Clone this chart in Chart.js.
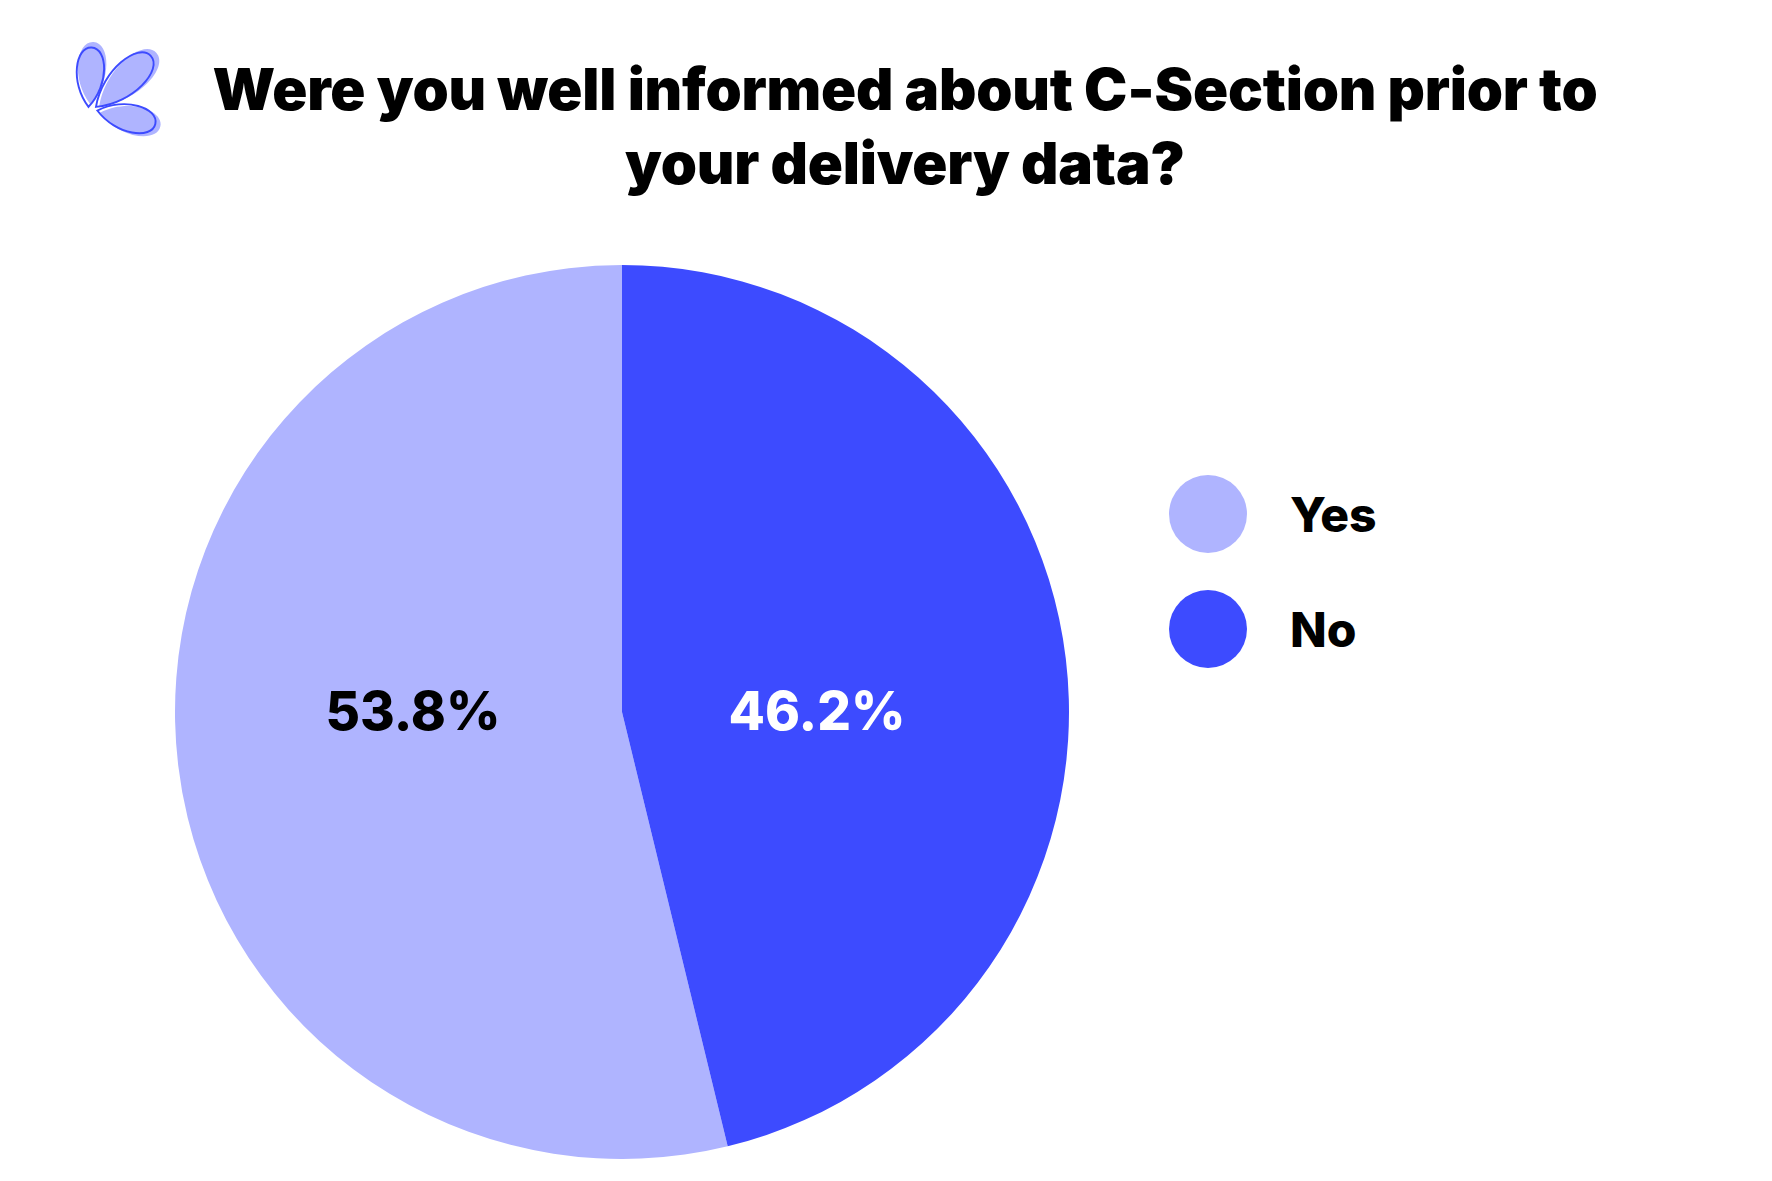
<!DOCTYPE html>
<html>
<head>
<meta charset="utf-8">
<script src="https://cdn.jsdelivr.net/npm/chart.js@4.4.1/dist/chart.umd.min.js"></script>
<style>
    html, body { margin: 0; padding: 0; background: #ffffff; }
    body { width: 1772px; height: 1181px; position: relative; overflow: hidden; font-family: Inter, "Open Sans", sans-serif; }
    #logo { position: absolute; left: 60px; top: 32px; }
    #title {
        position: absolute; left: 180px; width: 1450px; top: 52px;
        text-align: center; font-weight: 900; font-size: 58px; line-height: 74px;
        letter-spacing: -0.2px; color: #000;
    }
    #chartBox { position: absolute; left: 175px; top: 265px; width: 894px; height: 894px; }
    #legend { position: absolute; left: 1169px; top: 475px; }
    .legendItem { display: flex; align-items: center; height: 78px; margin-bottom: 37px; }
    .legendDot { width: 78px; height: 78px; border-radius: 50%; }
    .legendText { margin-left: 43px; font-weight: 800; font-size: 48px; color: #000; }
</style>
</head>
<body>

<svg id="logo" width="120" height="120" viewBox="0 0 120 120">
    <g id="petals"></g>
</svg>

<div id="title">Were you well informed about C-Section prior to<br>your delivery data?</div>

<div id="chartBox"><canvas id="pieChart" width="894" height="894"></canvas></div>

<div id="legend"></div>

<script>
// chart data
var categories = ["Yes", "No"];
var shares = [53.8, 46.2];
var sliceColors = ["#AFB4FF", "#3D4BFF"];
var labelColors = ["#000000", "#ffffff"];

// little petal logo next to the title
function drawLogo() {
    var petals = [
        // tip x, tip y, angle, length, width
        [30, 75, -87, 62, 28],
        [37, 76, -43, 78, 32],
        [37, 80, 13, 62, 28]
    ];
    var html = "";
    for (var i = 0; i < petals.length; i++) {
        var p = petals[i];
        var L = p[3], W = p[4] / 2;
        var d = "M0,0 C" + (0.4 * L) + "," + (-1.5 * W) + " " + L + "," + (-1.2 * W) + " " + L + ",0 " +
                "C" + L + "," + (1.2 * W) + " " + (0.4 * L) + "," + (1.5 * W) + " 0,0 Z";
        var t = "translate(" + p[0] + "," + p[1] + ") rotate(" + p[2] + ")";
        html += '<path d="' + d + '" transform="' + t + ' translate(3,0)" fill="#AFB4FF"/>';
        html += '<path d="' + d + '" transform="' + t + ' translate(0,-1.5) scale(0.96)" fill="none" stroke="#3D4BFF" stroke-width="2"/>';
    }
    document.getElementById("petals").innerHTML = html;
}

function buildLegend() {
    var box = document.getElementById("legend");
    var html = "";
    for (var i = 0; i < categories.length; i++) {
        html += '<div class="legendItem"><div class="legendDot" style="background:' + sliceColors[i] + '"></div>' +
                '<div class="legendText">' + categories[i] + '</div></div>';
    }
    box.innerHTML = html;
}

// percentage labels drawn inside the slices, level with the centre
var pctLabels = {
    id: "pctLabels",
    afterDatasetsDraw: function (chart) {
        var ctx = chart.ctx;
        var meta = chart.getDatasetMeta(0);
        ctx.save();
        ctx.font = "800 53px Inter";
        ctx.textAlign = "center";
        ctx.textBaseline = "middle";
        for (var i = 0; i < meta.data.length; i++) {
            var arc = meta.data[i];
            var mid = (arc.startAngle + arc.endAngle) / 2;
            var x = arc.x + Math.cos(mid) * arc.outerRadius * 0.455 - 7;
            ctx.fillStyle = labelColors[i];
            ctx.fillText(shares[i].toFixed(1) + "%", x, arc.y + 2);
        }
        ctx.restore();
    }
};

drawLogo();
buildLegend();

var pie = new Chart(document.getElementById("pieChart"), {
    type: "pie",
    data: {
        labels: categories,
        datasets: [{
            data: shares,
            backgroundColor: sliceColors,
            borderWidth: 0
        }]
    },
    options: {
        responsive: false,
        animation: false,
        rotation: shares[1] / 100 * 360,
        layout: { padding: 0 },
        plugins: {
            legend: { display: false },
            tooltip: { enabled: false }
        }
    },
    plugins: [pctLabels]
});
</script>
</body>
</html>
